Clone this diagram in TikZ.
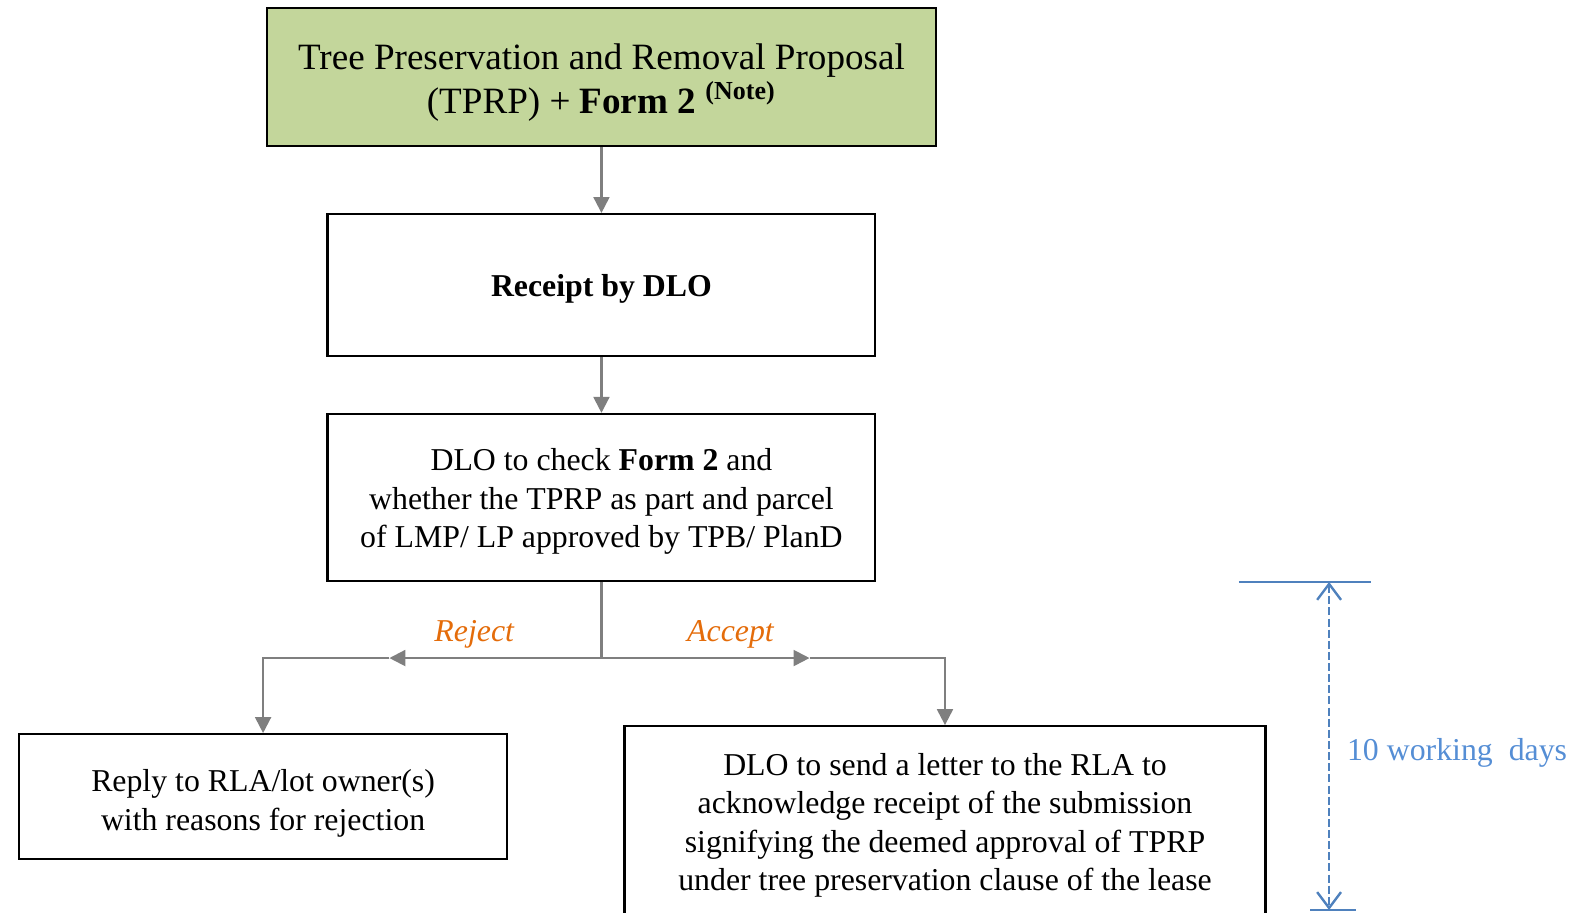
\documentclass[tikz,border=0pt]{standalone}
\usepackage{fontspec}
\setmainfont{Liberation Serif}
\usetikzlibrary{arrows.meta,positioning,calc}
\definecolor{tprpgreen}{RGB}{195,214,155}
\definecolor{flowgray}{RGB}{127,127,127}
\definecolor{decorange}{RGB}{228,108,10}
\definecolor{dayblue}{RGB}{79,129,189}
\definecolor{daytext}{RGB}{85,142,213}
\begin{document}
\begin{tikzpicture}[
  box/.style={draw, line width=0.8pt, align=center, inner sep=2pt, font=\fontsize{12}{14.5}\selectfont},
  arr/.style={-{Triangle[length=6pt,width=6pt]}, draw=flowgray, line width=0.8pt},
  ln/.style={draw=flowgray, line width=0.8pt},
  lbl/.style={font=\fontsize{12}{14.5}\selectfont\itshape, text=decorange, above=0pt},
  dim/.style={draw=dayblue, line width=0.9pt}]
\useasboundingbox (0,0) rectangle (595.3pt,-344.1pt);
\node[box, fill=tprpgreen, minimum width=252.4pt, minimum height=52.1pt, font=\fontsize{14}{16.8}\selectfont] (tprp) at (226.9pt,-29pt) {\rule{0pt}{14pt}Tree Preservation and Removal Proposal\\(TPRP) + \textbf{Form 2} \textsuperscript{\textbf{(Note)}}};
\node[box, below=24.9pt of tprp, minimum width=206.7pt, minimum height=53.6pt] (rcpt) {\rule{0pt}{11pt}\textbf{Receipt by DLO}};
\node[box, below=21pt of rcpt, minimum width=206.7pt, minimum height=63pt] (chk) {\rule{0pt}{11.5pt}DLO to check \textbf{Form 2} and\\whether the TPRP as part and parcel\\of LMP/ LP approved by TPB/ PlanD};
\coordinate[below=28.7pt of chk] (j);
\coordinate[left=80pt of j] (lm);
\coordinate[right=78.5pt of j] (rm);
\node[box, below left=28.3pt and 35.2pt of j, minimum width=184.1pt, minimum height=47.2pt] (rej) {\rule{0pt}{13.5pt}Reply to RLA/lot owner(s)\\with reasons for rejection};
\node[box, below right=25.3pt and 8.3pt of j, minimum width=241.8pt, minimum height=73.8pt] (acc) {\rule{0pt}{9.5pt}DLO to send a letter to the RLA to\\acknowledge receipt of the submission\\signifying the deemed approval of TPRP\\under tree preservation clause of the lease};
\draw[arr] (tprp) -- (rcpt);
\draw[arr] (rcpt) -- (chk);
\draw[ln] (chk) -- (j);
\draw[arr] (j) -- node[lbl, pos=0.6] {Reject} (lm);
\draw[arr] (lm) -| (rej.north);
\draw[arr] (j) -- node[lbl, pos=0.62] {Accept} (rm);
\draw[arr] (rm) -| (acc.north);
\coordinate (dt) at (501.4pt,0 |- chk.south);
\coordinate (db) at (501.4pt,-343.3pt);
\draw[dim] ($(dt)+(-34pt,0)$) -- ($(dt)+(15.8pt,0)$);
\draw[dim] ($(db)+(-7.2pt,0)$) -- ($(db)+(10.2pt,0)$);
\draw[dim, dash pattern=on 3pt off 1.2pt, {Straight Barb[length=6pt,width=9pt]}-{Straight Barb[length=6pt,width=9pt]}] (dt) -- node[right=3pt, pos=0.522, text=daytext, font=\fontsize{12}{14.5}\selectfont] {10 working\ \ days} (db);
\end{tikzpicture}
\end{document}
